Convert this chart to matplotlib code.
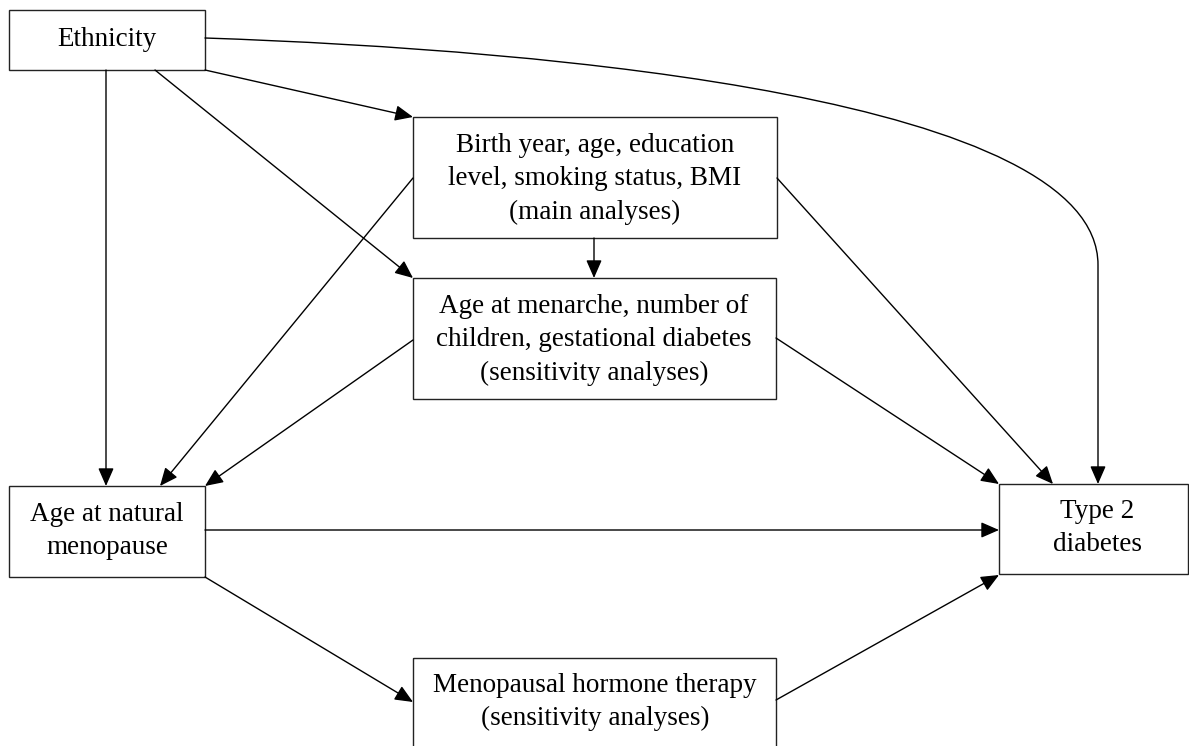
import matplotlib
matplotlib.use('Agg')
import matplotlib.pyplot as plt
from matplotlib.patches import Rectangle, FancyArrowPatch, ArrowStyle
from matplotlib.path import Path

# node boxes: name -> (left, top, right, bottom) in pixel units
nodes = {
    'eth': (9, 10, 205, 70),
    'birth': (413, 117, 777, 238),
    'men': (413, 278, 776, 399),
    'anm': (9, 486, 205, 577),
    't2d': (999, 484, 1188, 574),
    'mht': (413, 658, 776, 760),
}
labels = {
    'eth': 'Ethnicity',
    'birth': 'Birth year, age, education\nlevel, smoking status, BMI\n(main analyses)',
    'men': 'Age at menarche, number of\nchildren, gestational diabetes\n(sensitivity analyses)',
    'anm': 'Age at natural\nmenopause',
    't2d': 'Type 2\ndiabetes',
    'mht': 'Menopausal hormone therapy\n(sensitivity analyses)',
}
label_pos = {
    'eth': (107, 39),
    'birth': (595, 179),
    'men': (594, 340),
    'anm': (107, 531),
    't2d': (1097, 528),
    'mht': (595, 702),
}
# straight edges: start point -> end point
edges = [
    ((106, 70), (106, 486)),
    ((155, 70), (413, 278)),
    ((205, 70), (413, 117)),
    ((413, 178), (160, 486)),
    ((413, 340), (205, 486)),
    ((594, 238), (594, 278)),
    ((777, 178), (1053, 484)),
    ((776, 338), (999, 484)),
    ((205, 530), (999, 530)),
    ((205, 577), (413, 702)),
    ((776, 700), (999, 575)),
]
# curved edge Ethnicity -> Type 2 diabetes
curve = [(205, 38), (560, 50), (1098, 100), (1098, 265), (1098, 484)]

fig = plt.figure(figsize=(11.89, 7.46), dpi=100)
ax = fig.add_axes([0, 0, 1, 1])
ax.set_xlim(0, 1189)
ax.set_ylim(746, 0)
ax.axis('off')

for k, (l, t, r, b) in nodes.items():
    ax.add_patch(Rectangle((l, t), r - l, b - t, fill=False, ec='#222222', lw=1.0))
    ax.text(*label_pos[k], labels[k], ha='center', va='center', fontsize=19.5,
            family='Liberation Serif', linespacing=1.45, color='black')

style = ArrowStyle('-|>', head_length=1.1, head_width=0.48)
for p0, p1 in edges:
    ax.add_patch(FancyArrowPatch(p0, p1, arrowstyle=style, mutation_scale=10,
                                 shrinkA=0, shrinkB=0, lw=1.0, color='black'))

codes = [Path.MOVETO, Path.CURVE4, Path.CURVE4, Path.CURVE4, Path.LINETO]
ax.add_patch(FancyArrowPatch(path=Path(curve, codes), arrowstyle=style, mutation_scale=10,
                             lw=1.0, color='black'))

fig.savefig('out.png', dpi=100)
